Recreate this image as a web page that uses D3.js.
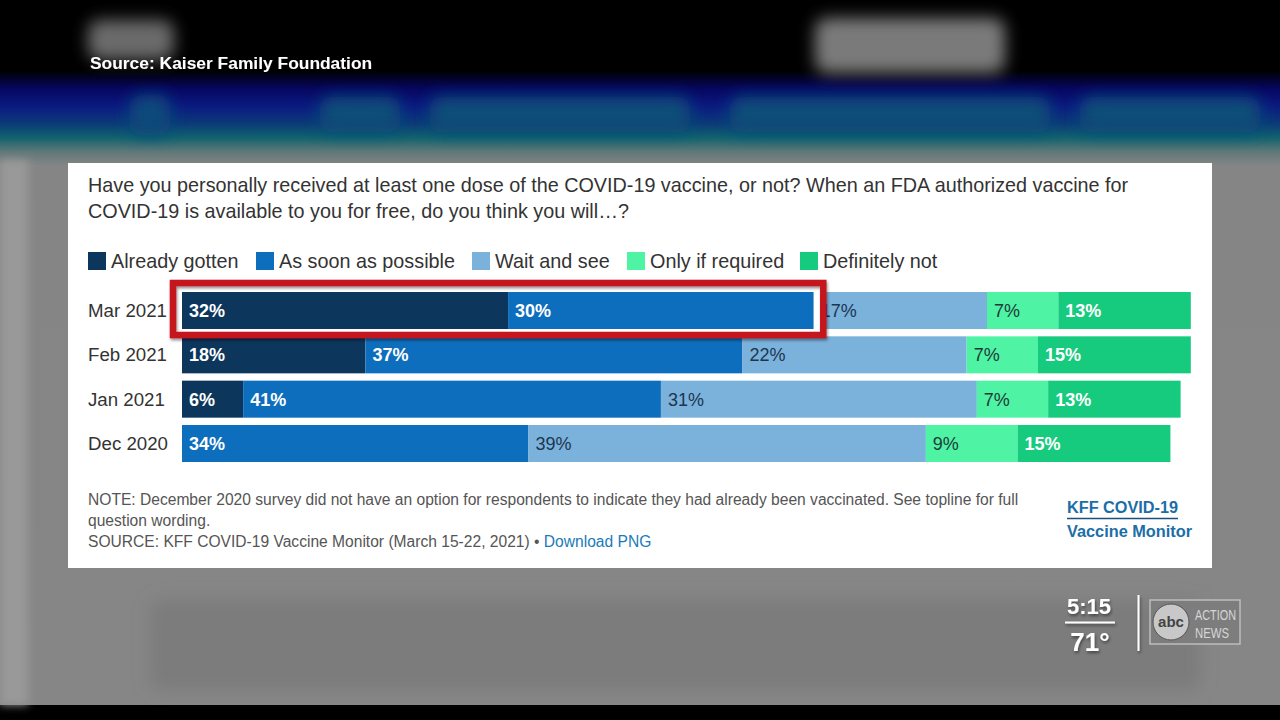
<!DOCTYPE html>
<html>
<head>
<meta charset="utf-8">
<script src="https://cdn.jsdelivr.net/npm/d3@7"></script>
<style>
  html, body { margin: 0; padding: 0; background: #000; }
  svg { display: block; }
  text { font-family: "Liberation Sans", Arial, sans-serif; }
</style>
</head>
<body>
<div id="chart"></div>
<script>
// Datos de la encuesta (KFF COVID-19 Vaccine Monitor)
const categories = ["Mar 2021", "Feb 2021", "Jan 2021", "Dec 2020"];
const seriesNames = ["Already gotten", "As soon as possible", "Wait and see", "Only if required", "Definitely not"];
const alreadyGotten = [32, 18, 6, null];
const asSoonAsPossible = [30, 37, 41, 34];
const waitAndSee = [17, 22, 31, 39];
const onlyIfRequired = [7, 7, 7, 9];
const definitelyNot = [13, 15, 13, 15];
const seriesColors = ["#0c365c", "#0d6ebd", "#7ab2dc", "#4ff3a4", "#17cb7e"];
const labelColors = ["#fff", "#fff", "#1d3550", "#1d3a3a", "#fff"];

const titleLines = [
    "Have you personally received at least one dose of the COVID-19 vaccine, or not? When an FDA authorized vaccine for",
    "COVID-19 is available to you for free, do you think you will\u2026?"
];
const noteLines = [
    "NOTE: December 2020 survey did not have an option for respondents to indicate they had already been vaccinated. See topline for full",
    "question wording."
];

document.addEventListener('DOMContentLoaded', function() {
    const W = 1280, H = 720;
    const svg = d3.select("#chart").append("svg")
        .attr("width", W)
        .attr("height", H);

    const defs = svg.append("defs");

    // Fondo de la pantalla de TV
    const bgGrad = defs.append("linearGradient")
        .attr("id", "bgGrad").attr("x1", 0).attr("y1", 0).attr("x2", 0).attr("y2", 1);
    [[0, "#000"], [0.10, "#000"], [0.125, "#06065e"], [0.15, "#0a1a80"], [0.175, "#0b3a78"],
     [0.195, "#10626e"], [0.215, "#5f7878"], [0.235, "#858585"], [1, "#868686"]]
        .forEach(s => bgGrad.append("stop").attr("offset", s[0]).attr("stop-color", s[1]));

    defs.append("filter").attr("id", "blur8")
        .attr("x", "-50%").attr("y", "-50%").attr("width", "200%").attr("height", "200%")
        .append("feGaussianBlur").attr("stdDeviation", 8);
    defs.append("filter").attr("id", "blur4")
        .attr("x", "-50%").attr("y", "-50%").attr("width", "200%").attr("height", "200%")
        .append("feGaussianBlur").attr("stdDeviation", 4);

    const shadow = defs.append("filter").attr("id", "shadow")
        .attr("x", "-10%").attr("y", "-30%").attr("width", "120%").attr("height", "160%");
    shadow.append("feDropShadow").attr("dx", 1).attr("dy", 2).attr("stdDeviation", 1.5)
        .attr("flood-color", "#000").attr("flood-opacity", 0.45);

    svg.append("rect").attr("width", W).attr("height", 705).attr("fill", "url(#bgGrad)");
    svg.append("rect").attr("y", 705).attr("width", W).attr("height", 15).attr("fill", "#000");

    // Manchas borrosas del fondo
    const blobs = [
        {x: 88, y: 20, w: 86, h: 40, c: "#6a6a6a"},
        {x: 815, y: 18, w: 190, h: 55, c: "#7a7a7a"},
        {x: 130, y: 95, w: 40, h: 40, c: "#0d4a7a"},
        {x: 320, y: 97, w: 80, h: 35, c: "#0f4d78"},
        {x: 430, y: 97, w: 260, h: 35, c: "#0f4d78"},
        {x: 730, y: 97, w: 320, h: 35, c: "#0f4d78"},
        {x: 1080, y: 97, w: 180, h: 35, c: "#0f4d78"},
        {x: 150, y: 600, w: 1050, h: 90, c: "#7c7c7c"}
    ];
    svg.selectAll(".blob").data(blobs).enter().append("rect")
        .attr("class", "blob")
        .attr("x", d => d.x).attr("y", d => d.y)
        .attr("width", d => d.w).attr("height", d => d.h)
        .attr("rx", 12)
        .attr("fill", d => d.c)
        .attr("filter", "url(#blur8)");
    svg.append("rect").attr("x", 0).attr("y", 160).attr("width", 28).attr("height", 545)
        .attr("fill", "#999").attr("filter", "url(#blur4)");

    svg.append("text")
        .attr("x", 90).attr("y", 69)
        .attr("fill", "#fff")
        .attr("font-size", 17.4).attr("font-weight", "bold")
        .attr("filter", "url(#shadow)")
        .text("Source: Kaiser Family Foundation");

    // Tarjeta blanca del gráfico
    svg.append("rect")
        .attr("x", 68).attr("y", 163).attr("width", 1144).attr("height", 405)
        .attr("fill", "#fff");

    svg.selectAll(".title").data(titleLines).enter().append("text")
        .attr("class", "title")
        .attr("x", 88).attr("y", (d, i) => 192 + i * 26)
        .attr("fill", "#333")
        .attr("font-size", 19.8)
        .text(d => d);

    // Leyenda
    const legendX = [88, 256, 472, 627, 800];
    const legend = svg.selectAll(".legend").data(seriesNames).enter().append("g")
        .attr("class", "legend")
        .attr("transform", (d, i) => "translate(" + legendX[i] + ",252)");
    legend.append("rect")
        .attr("width", 18).attr("height", 18)
        .attr("fill", (d, i) => seriesColors[i]);
    legend.append("text")
        .attr("x", 23).attr("y", 16)
        .attr("fill", "#333")
        .attr("font-size", 19.8)
        .text(d => d);

    // Tabla para el apilado
    const seriesValues = [alreadyGotten, asSoonAsPossible, waitAndSee, onlyIfRequired, definitelyNot];
    const table = categories.map((c, i) => {
        const row = {category: c};
        seriesNames.forEach((s, j) => { row[s] = seriesValues[j][i]; });
        return row;
    });
    const stacked = d3.stack().keys(seriesNames)
        .value((d, key) => d[key] == null ? 0 : d[key])(table);

    const x = d3.scaleLinear().domain([0, 100]).range([182, 1201]);
    const y = d3.scaleBand().domain(categories).range([292, 462]).paddingInner(0.165).paddingOuter(0);

    svg.selectAll(".cat").data(categories).enter().append("text")
        .attr("class", "cat")
        .attr("x", 88)
        .attr("y", d => y(d) + y.bandwidth() / 2 + 6.5)
        .attr("fill", "#333")
        .attr("font-size", 18.7)
        .text(d => d);

    const layer = svg.selectAll(".layer").data(stacked).enter().append("g")
        .attr("class", "layer")
        .attr("fill", (d, i) => seriesColors[i]);

    layer.selectAll("rect")
        .data(d => d.filter(p => p[1] > p[0]))
        .enter().append("rect")
        .attr("x", d => x(d[0]))
        .attr("y", d => y(d.data.category))
        .attr("width", d => x(d[1]) - x(d[0]))
        .attr("height", y.bandwidth());

    layer.selectAll("text")
        .data((d, i) => d.filter(p => p[1] > p[0]).map(p => ({p: p, i: i})))
        .enter().append("text")
        .attr("x", d => x(d.p[0]) + 7)
        .attr("y", d => y(d.p.data.category) + y.bandwidth() / 2 + 6.5)
        .attr("fill", d => labelColors[d.i])
        .attr("font-size", 18)
        .attr("font-weight", d => labelColors[d.i] === "#fff" ? "bold" : "normal")
        .text(d => (d.p[1] - d.p[0]) + "%");

    // Recuadro rojo resaltando Mar 2021
    const barY = y(categories[0]), barEnd = x(stacked[1][0][1]);
    svg.append("rect")
        .attr("x", barEnd).attr("y", barY)
        .attr("width", 7).attr("height", y.bandwidth())
        .attr("fill", "#fff");
    svg.append("rect")
        .attr("x", x(0) - 9).attr("y", barY - 9)
        .attr("width", barEnd + 9.5 - (x(0) - 9)).attr("height", y.bandwidth() + 15)
        .attr("fill", "none").attr("stroke", "#c4161c").attr("stroke-width", 6.5)
        .attr("filter", "url(#shadow)");

    // Notas y fuente
    svg.selectAll(".note").data(noteLines).enter().append("text")
        .attr("class", "note")
        .attr("x", 88).attr("y", (d, i) => 505 + i * 21)
        .attr("fill", "#555")
        .attr("font-size", 15.6)
        .text(d => d);
    const src = svg.append("text")
        .attr("x", 88).attr("y", 547)
        .attr("fill", "#555")
        .attr("font-size", 15.6);
    src.append("tspan").text("SOURCE: KFF COVID-19 Vaccine Monitor (March 15-22, 2021) \u2022 ");
    src.append("tspan").attr("fill", "#1b7bb8").text("Download PNG");

    // Logo KFF
    svg.append("text")
        .attr("x", 1067).attr("y", 513)
        .attr("fill", "#1c6ea6").attr("font-size", 16).attr("font-weight", "bold")
        .attr("font-family", "'DejaVu Sans Condensed', 'DejaVu Sans', sans-serif")
        .attr("textLength", 111).attr("lengthAdjust", "spacingAndGlyphs")
        .text("KFF COVID-19");
    svg.append("line")
        .attr("x1", 1067).attr("x2", 1178).attr("y1", 518.5).attr("y2", 518.5)
        .attr("stroke", "#1c4f7a").attr("stroke-width", 1.5);
    svg.append("text")
        .attr("x", 1067).attr("y", 537)
        .attr("fill", "#1c6ea6").attr("font-size", 16).attr("font-weight", "bold")
        .attr("font-family", "'DejaVu Sans Condensed', 'DejaVu Sans', sans-serif")
        .attr("textLength", 125).attr("lengthAdjust", "spacingAndGlyphs")
        .text("Vaccine Monitor");

    // Hora, temperatura y logotipo de la cadena
    const bug = svg.append("g").attr("filter", "url(#shadow)");
    bug.append("text")
        .attr("x", 1089).attr("y", 614).attr("text-anchor", "middle")
        .attr("fill", "#fff").attr("font-size", 22).attr("font-weight", "bold")
        .text("5:15");
    bug.append("line")
        .attr("x1", 1065).attr("x2", 1115).attr("y1", 622.5).attr("y2", 622.5)
        .attr("stroke", "#fff").attr("stroke-width", 2);
    bug.append("text")
        .attr("x", 1090).attr("y", 651).attr("text-anchor", "middle")
        .attr("fill", "#fff").attr("font-size", 26).attr("font-weight", "bold")
        .text("71\u00b0");
    bug.append("line")
        .attr("x1", 1138.5).attr("x2", 1138.5).attr("y1", 595).attr("y2", 651)
        .attr("stroke", "#fff").attr("stroke-width", 2);

    const logo = svg.append("g").attr("transform", "translate(1150,600)");
    logo.append("rect").attr("width", 90).attr("height", 44)
        .attr("fill", "#7d7d7d").attr("stroke", "#bdbdbd").attr("stroke-width", 1.5);
    logo.append("circle").attr("cx", 21).attr("cy", 22).attr("r", 18)
        .attr("fill", "#c8c8c8").attr("stroke", "#555").attr("stroke-width", 1);
    logo.append("text").attr("x", 21).attr("y", 27).attr("text-anchor", "middle")
        .attr("fill", "#444").attr("font-size", 15).attr("font-weight", "bold")
        .text("abc");
    logo.append("text").attr("x", 45).attr("y", 20)
        .attr("fill", "#d6d6d6").attr("font-size", 15)
        .attr("font-family", "'DejaVu Sans Condensed', 'DejaVu Sans', sans-serif")
        .attr("textLength", 41).attr("lengthAdjust", "spacingAndGlyphs")
        .text("ACTION");
    logo.append("text").attr("x", 45).attr("y", 38)
        .attr("fill", "#d6d6d6").attr("font-size", 15)
        .attr("font-family", "'DejaVu Sans Condensed', 'DejaVu Sans', sans-serif")
        .attr("textLength", 34).attr("lengthAdjust", "spacingAndGlyphs")
        .text("NEWS");
});
</script>
</body>
</html>
